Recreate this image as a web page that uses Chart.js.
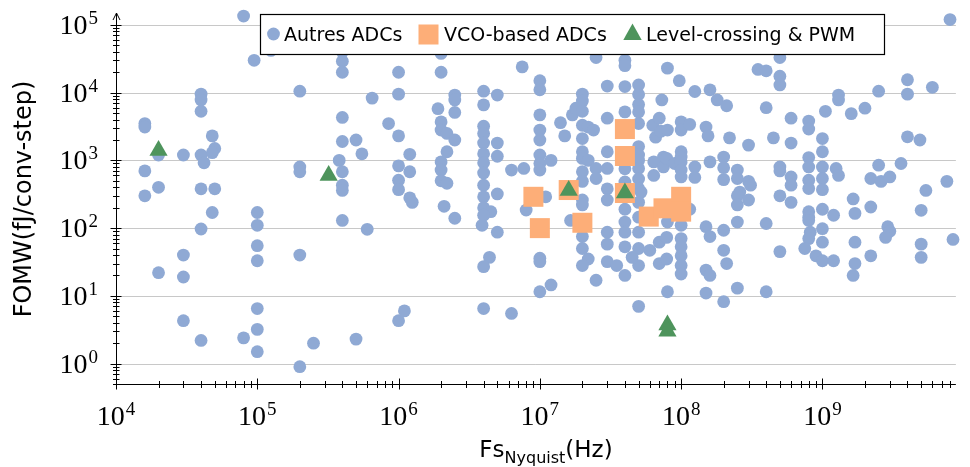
<!DOCTYPE html>
<html>
<head>
<meta charset="utf-8">
<script src="https://cdn.jsdelivr.net/npm/chart.js@4.4.1/dist/chart.umd.min.js"></script>
<style>
  body { margin: 0; background: #fff; }
  #wrap { width: 970px; height: 467px; }
</style>
</head>
<body>
<div id="wrap"><canvas id="fomChart" width="970" height="467"></canvas></div>
<script>
// [Fs_Nyquist (Hz), FOMW (fJ/conv-step)]
var autresADCs = [
  [1.6e4,3500],[1.6e4,3100],[1.6e4,700],[1.6e4,300],
  [2e4,1200],[2e4,400],[2e4,22],
  [3e4,1200],[3e4,40],[3e4,19],[3e4,4.3],
  [4e4,9500],[4e4,7800],[4e4,5300],[4e4,1200],[4.2e4,920],[4e4,380],[4e4,97],[4e4,2.2],
  [4.8e4,2300],[5e4,1500],[4.8e4,1300],[5e4,380],[4.8e4,170],
  [8e4,1.35e5],[8e4,2.4],[9.5e4,30000],[1.25e5,42000],
  [1e5,170],[1e5,110],[1e5,55],[1e5,33],[1e5,6.5],[1e5,3.2],[1e5,1.5],
  [2e5,10500],[2e5,800],[2e5,680],[2e5,40],[2e5,0.9],[2.5e5,2],
  [4e5,40000],[4e5,29000],[4e5,20000],[4e5,4300],[4e5,1900],[3.8e5,1000],[4e5,680],[4e5,430],[4e5,360],[4e5,130],
  [5e5,2000],[5.5e5,1250],[5e5,2.3],[6e5,96],[6.5e5,8300],[8.5e5,3500],
  [1e6,20000],[1e6,9500],[1e6,2300],[1e6,830],[1e6,510],[1e6,370],[1e6,4.3],[1.1e6,6],
  [1.2e6,1230],[1.2e6,680],[1.2e6,280],[1.25e6,240],
  [2e6,38000],[2e6,20000],[1.9e6,5800],[2e6,3700],[2e6,2800],[2.2e6,2500],[2.2e6,1340],[2e6,950],[2e6,720],[2e6,500],[2.2e6,460],[2.1e6,210],
  [2.5e6,9200],[2.5e6,7800],[2.5e6,5100],[2.5e6,2000],[2.5e6,140],
  [4e6,10500],[4e6,6600],[4e6,3200],[4e6,2500],[4e6,1800],[4e6,1250],[4e6,920],[4e6,650],[4e6,430],[4e6,290],[4e6,200],[4.5e6,175],[4e6,155],[3.9e6,110],[4.4e6,37],[4e6,27],[4e6,6.5],
  [5e6,9200],[5e6,1800],[5e6,1150],[5e6,320],[5e6,87],
  [6.3e6,720],[6.3e6,5.5],[7.7e6,760],[7.5e6,24000],[8e6,185],
  [1e7,15000],[1e7,11000],[1e7,4700],[1e7,2800],[1e7,2000],[1e7,1200],[1e7,900],[1e7,720],[1.2e7,1000],[1.1e7,290],[1e7,36],[1e7,32],[1e7,11.5],[1.2e7,14.5],
  [1.4e7,3600],[1.5e7,2300],[1.7e7,4700],[1.8e7,5900],[1.65e7,130],
  [2e7,9500],[2e7,7500],[2e7,5300],[2e7,3300],[2.2e7,3100],[2.4e7,2800],[2e7,2100],[2e7,1340],[2e7,1070],[2.2e7,1000],[2e7,680],[2e7,490],[2e7,260],[2e7,220],[2e7,75],[2e7,50],[2.2e7,35],[2e7,28],
  [2.5e7,33000],[2.5e7,760],[2.5e7,540],[2.5e7,17],
  [3e7,12500],[3e7,4200],[3e7,1340],[3e7,760],[3e7,380],[3e7,260],[3e7,87],[3e7,58],[3e7,32],[3.5e7,28],
  [4e7,30000],[4e7,25000],[4e7,12300],[4e7,5200],[4e7,750],[4e7,480],[4e7,190],[4e7,123],[4e7,87],[4e7,53],[4e7,20],
  [5e7,13000],[5e7,9400],[5e7,6700],[5e7,5200],[5e7,3500],[5e7,1600],[5e7,1200],[5e7,1000],[5e7,760],[5e7,530],[5e7,384],[5.2e7,340],[5e7,240],[5e7,145],[5e7,87],[5e7,50],[5e7,28],[4.5e7,37],[5e7,7],
  [6.3e7,3300],[6.6e7,2200],[7e7,4200],[7.2e7,2700],[7.3e7,7800],[6.4e7,950],[6.4e7,600],[7.5e7,1120],[7.5e7,800],[6e7,47],[7e7,62],[7e7,30],
  [8e7,23000],[8e7,2800],[7.9e7,1070],[9e7,900],[8e7,123],[7.9e7,73],[7.9e7,35],[8e7,11.5],[9.7e7,15000],
  [1e8,3700],[1e8,2800],[1e8,1340],[1e8,1120],[1e8,950],[1e8,720],[1e8,570],[1e8,110],[1e8,70],[1e8,53],[1e8,39],[1e8,28],[1e8,21],
  [1.15e8,3400],[1.25e8,10400],[1.25e8,800],[1.25e8,560],[1.15e8,190],
  [1.5e8,3100],[1.55e8,2300],[1.6e8,11000],[1.8e8,7800],[2.1e8,6400],[1.6e8,950],[1.5e8,105],[1.6e8,75],[1.5e8,24],[1.6e8,20],[1.5e8,11],
  [2e8,1120],[2e8,780],[2e8,520],[2e8,93],[2e8,47],[2.1e8,30],[2e8,8.2],[2.2e8,2150],
  [2.5e8,720],[2.5e8,540],[2.6e8,340],[2.5e8,300],[2.5e8,220],[2.5e8,123],[2.5e8,13],
  [3e8,1680],[3e8,490],[3.1e8,430],[3e8,260],
  [3.5e8,22000],[4e8,21000],[4e8,6000],[4.5e8,2150],[4e8,117],[4e8,11.5],
  [5e8,33000],[5e8,17500],[5e8,13000],[5e8,800],[5e8,700],[5e8,300],[5e8,45],
  [6e8,4200],[6e8,1800],[6e8,570],[6e8,430],[6e8,240],
  [8e8,3800],[8e8,2900],[8e8,1100],[8e8,800],[8e8,510],[8e8,384],[8e8,175],[8e8,145],[8e8,130],[8.2e8,87],[8e8,70],[7.5e8,50],
  [1e9,2100],[1e9,1340],[1e9,800],[1e9,540],[1e9,370],[1e9,190],[1e9,98],[1e9,62],[9e8,39],[1e9,33],[1.05e9,5300],
  [1.2e9,33],[1.2e9,155],[1.25e9,760],[1.3e9,600],[1.3e9,9200],[1.3e9,7800],
  [1.6e9,4900],[1.65e9,270],[1.7e9,165],[1.7e9,62],[1.65e9,20],[1.7e9,30],
  [2e9,5900],[2.2e9,540],[2.2e9,205],[2.2e9,39],
  [2.5e9,10500],[2.5e9,850],[2.6e9,490],[3e9,570],[2.9e9,105],[3e9,90],[2.8e9,73],[3.6e9,900],
  [4e9,15500],[4e9,9500],[4e9,2230],[4.9e9,2000],[5e9,183],[5.4e9,360],[5e9,58],[5e9,37],
  [6e9,12000],[7.6e9,490],[8.4e9,68],[8e9,1.2e5]
];
var vcoADCs = [
  [9e6,290],[1e7,100],[1.6e7,365],[2e7,120],
  [4e7,2900],[4e7,1160],[4e7,330],
  [5.9e7,148],[7.5e7,196],[1e8,290],[1e8,175]
];
var levelCrossing = [
  [2e4,1400],[3.2e5,600],[1.6e7,360],[4e7,330],[8e7,3.7],[8e7,3.0]
];
var legendLabels = ['Autres ADCs', 'VCO-based ADCs', 'Level-crossing & PWM'];
var xDecades = [4, 5, 6, 7, 8, 9];
var yDecades = [0, 1, 2, 3, 4, 5];
var xMin = 1e4, xMax = 8.8e9, yMin = 0.5, yMax = 1.4e5;

var blue = '#8fa9d4', orange = '#fdae78', green = '#4e945c';
var sansFont = '"DejaVu Sans", sans-serif';
var serifFont = '"Liberation Serif", serif';

function toPoints(list) {
  return list.map(function(p) { return {x: p[0], y: p[1]}; });
}

// draws "10" with a raised exponent, anchor = left / right / center
function drawPower(ctx, exp, x, baseline, anchor) {
  ctx.font = '28px ' + serifFont;
  var w1 = ctx.measureText('10').width;
  ctx.font = '19px ' + serifFont;
  var w2 = ctx.measureText(String(exp)).width;
  var total = w1 + 1 + w2;
  var left = anchor === 'right' ? x - total : (anchor === 'center' ? x - total / 2 : x);
  ctx.textAlign = 'left';
  ctx.textBaseline = 'alphabetic';
  ctx.font = '28px ' + serifFont;
  ctx.fillText('10', left, baseline);
  ctx.font = '19px ' + serifFont;
  ctx.fillText(String(exp), left + w1 + 1, baseline - 10);
}

var axesPlugin = {
  id: 'logAxes',
  beforeDatasetsDraw: function(chart) {
    var ctx = chart.ctx, area = chart.chartArea;
    var xs = chart.scales.x, ys = chart.scales.y;
    var x0 = Math.round(area.left) + 0.5, y0 = Math.round(area.bottom) + 0.5;
    ctx.save();

    // horizontal grid at each decade
    ctx.strokeStyle = '#c8c8c8';
    ctx.lineWidth = 1;
    yDecades.forEach(function(k) {
      var py = Math.round(ys.getPixelForValue(Math.pow(10, k))) + 0.5;
      ctx.beginPath();
      ctx.moveTo(area.left, py);
      ctx.lineTo(area.right, py);
      ctx.stroke();
    });

    // axis lines
    ctx.strokeStyle = '#000';
    ctx.beginPath();
    ctx.moveTo(x0, y0);
    ctx.lineTo(x0, area.top - 2);
    ctx.moveTo(x0, y0);
    ctx.lineTo(area.right, y0);
    ctx.stroke();
    // arrow head on y axis
    ctx.beginPath();
    ctx.moveTo(x0 - 3.5, area.top + 5);
    ctx.lineTo(x0, area.top - 2);
    ctx.lineTo(x0 + 3.5, area.top + 5);
    ctx.stroke();

    // minor / major ticks
    var k, m, v, p;
    ctx.beginPath();
    for (k = -1; k <= 5; k++) {
      for (m = 1; m <= 9; m++) {
        v = m * Math.pow(10, k);
        if (v < yMin || v > yMax) continue;
        p = Math.round(ys.getPixelForValue(v)) + 0.5;
        ctx.moveTo(x0 - (m === 1 ? 6 : 3.5), p);
        ctx.lineTo(x0 + (m === 1 ? 5 : 3), p);
      }
    }
    for (k = 4; k <= 9; k++) {
      for (m = 1; m <= 9; m++) {
        v = m * Math.pow(10, k);
        if (v < xMin || v > xMax) continue;
        p = Math.round(xs.getPixelForValue(v)) + 0.5;
        ctx.moveTo(p, y0 - (m === 1 ? 6 : 3.5));
        ctx.lineTo(p, y0 + (m === 1 ? 5 : 3.5));
      }
    }
    ctx.stroke();

    // tick labels
    ctx.fillStyle = '#000';
    yDecades.forEach(function(k) {
      var py = ys.getPixelForValue(Math.pow(10, k));
      drawPower(ctx, k, 98, py + 9, 'right');
    });
    xDecades.forEach(function(k) {
      var px = xs.getPixelForValue(Math.pow(10, k));
      drawPower(ctx, k, px, 425, 'center');
    });

    // x title with subscript
    ctx.font = '23px ' + sansFont;
    var wFs = ctx.measureText('Fs').width;
    var wHz = ctx.measureText('(Hz)').width;
    ctx.font = '16px ' + sansFont;
    var wSub = ctx.measureText('Nyquist').width;
    var tx = 546 - (wFs + wSub + wHz) / 2;
    ctx.textAlign = 'left';
    ctx.textBaseline = 'alphabetic';
    ctx.font = '23px ' + sansFont;
    ctx.fillText('Fs', tx, 457);
    ctx.font = '16px ' + sansFont;
    ctx.fillText('Nyquist', tx + wFs, 463);
    ctx.font = '23px ' + sansFont;
    ctx.fillText('(Hz)', tx + wFs + wSub, 457);

    // y title
    ctx.translate(31, 199);
    ctx.rotate(-Math.PI / 2);
    ctx.textAlign = 'center';
    ctx.textBaseline = 'alphabetic';
    ctx.font = '24px ' + sansFont;
    ctx.fillText('FOMW(fJ/conv-step)', 0, 0);
    ctx.restore();
  }
};

var legendPlugin = {
  id: 'boxLegend',
  afterDraw: function(chart) {
    var ctx = chart.ctx;
    ctx.save();
    ctx.fillStyle = '#fff';
    ctx.fillRect(260, 14, 625, 40);
    ctx.strokeStyle = '#000';
    ctx.lineWidth = 1.2;
    ctx.strokeRect(260.5, 14.5, 624, 40);

    // markers
    ctx.fillStyle = blue;
    ctx.beginPath();
    ctx.arc(273.5, 34, 6.4, 0, Math.PI * 2);
    ctx.fill();
    ctx.fillStyle = orange;
    ctx.fillRect(418.5, 24.5, 20, 20);
    ctx.fillStyle = green;
    ctx.beginPath();
    ctx.moveTo(632.5, 23.5);
    ctx.lineTo(641.7, 40);
    ctx.lineTo(623.3, 40);
    ctx.closePath();
    ctx.fill();

    ctx.fillStyle = '#000';
    ctx.font = '19px ' + sansFont;
    ctx.textAlign = 'left';
    ctx.textBaseline = 'alphabetic';
    ctx.fillText(legendLabels[0], 284, 40.5);
    ctx.fillText(legendLabels[1], 444, 40.5);
    ctx.fillText(legendLabels[2], 646, 40.5);
    ctx.restore();
  }
};

new Chart(document.getElementById('fomChart'), {
  type: 'scatter',
  data: {
    datasets: [{
      label: legendLabels[0],
      data: toPoints(autresADCs),
      pointStyle: 'circle',
      pointRadius: 6.4,
      pointBorderWidth: 0,
      backgroundColor: blue,
      order: 3,
      clip: false
    }, {
      label: legendLabels[1],
      data: toPoints(vcoADCs),
      pointStyle: 'rect',
      pointRadius: 14.14,
      pointBorderWidth: 0,
      backgroundColor: orange,
      order: 2,
      clip: false
    }, {
      label: legendLabels[2],
      data: toPoints(levelCrossing),
      pointStyle: 'triangle',
      pointRadius: 10.5,
      pointBorderWidth: 0,
      backgroundColor: green,
      order: 1,
      clip: false
    }]
  },
  options: {
    responsive: false,
    animation: false,
    events: [],
    layout: { padding: { left: 116, right: 0, top: 15, bottom: 83 } },
    scales: {
      x: { type: 'logarithmic', min: xMin, max: xMax, display: false },
      y: { type: 'logarithmic', min: yMin, max: yMax, display: false }
    },
    plugins: {
      legend: { display: false },
      tooltip: { enabled: false }
    }
  },
  plugins: [axesPlugin, legendPlugin]
});
</script>
</body>
</html>
